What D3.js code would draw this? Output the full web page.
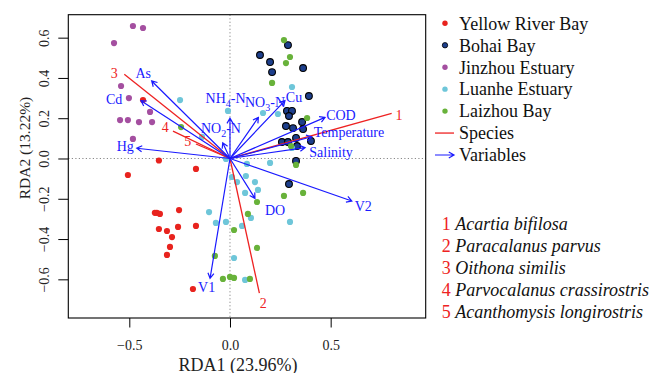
<!DOCTYPE html>
<html><head><meta charset="utf-8">
<script src="https://cdn.jsdelivr.net/npm/d3@7"></script>
<style>body{margin:0;background:#fff}svg{display:block;font-family:"Liberation Serif","Times New Roman",serif}</style>
</head><body><svg id="c" width="651" height="373"></svg>
<script>
// ---- data ----
const groups = ["Yellow River Bay","Bohai Bay","Jinzhou Estuary","Luanhe Estuary","Laizhou Bay"];
const groupColors = ["#e8231e","#1d3f8c","#a44fa0","#6ec6d9","#68b23a"];

const yellowRiverX = [-0.432,-0.353,-0.169,-0.507,-0.373,-0.363,-0.348,-0.253,-0.353,-0.313,-0.258,-0.169,-0.288,-0.298,-0.313,-0.184];
const yellowRiverY = [0.290,-0.010,-0.052,-0.082,-0.270,-0.270,-0.275,-0.256,-0.350,-0.360,-0.340,-0.335,-0.390,-0.439,-0.479,-0.648];

const bohaiX = [0.288,0.149,0.199,0.209,0.363,0.392,0.283,0.308,0.293,0.278,0.313,0.358,0.363,0.258,0.288,0.328,0.333,0.402,0.328,0.293];
const bohaiY = [0.563,0.514,0.479,0.429,0.449,0.310,0.236,0.236,0.211,0.161,0.151,0.181,0.146,0.082,0.082,0.102,0.062,0.087,-0.012,-0.127];

const jinzhouX = [-0.482,-0.432,-0.576,-0.541,-0.502,-0.397,-0.546,-0.507,-0.452,-0.387,-0.482];
const jinzhouY = [0.658,0.648,0.573,0.360,0.300,0.231,0.191,0.191,0.181,0.181,0.097];

const luanheX = [-0.248,0.308,-0.010,0.164,0.238,-0.139,-0.020,0.308,0.084,0.199,0.010,0.035,0.079,0.124,0.139,0.075,-0.104,-0.070,-0.020,0.060,0.104,0.298,0.020,0.075];
const luanheY = [0.290,0.355,0.236,0.226,0.221,0.107,-0.002,0.052,-0.027,-0.022,-0.092,-0.117,-0.087,-0.117,-0.156,-0.171,-0.266,-0.320,-0.315,-0.335,-0.295,-0.315,-0.494,-0.603];

const laizhouX = [-0.243,0.268,0.298,0.278,0.209,0.383,0.303,0.328,0.268,0.363,0.134,0.089,0.020,0.134,-0.075,-0.035,0.000,0.020,0.099];
const laizhouY = [0.156,0.588,0.504,0.474,0.375,0.201,0.062,-0.032,-0.186,-0.171,-0.216,-0.275,-0.355,-0.444,-0.484,-0.598,-0.588,-0.593,-0.598];

const varNames  = ["As","Cd","Hg","NH4-N","NO2-N","NO3-N","Cu","COD","Temperature","Salinity","V2","V1","DO"];
const varX      = [-0.389,-0.442,-0.463,0.000,-0.036,0.141,0.273,0.472,0.406,0.373,0.605,-0.099,0.124];
const varY      = [0.385,0.287,0.051,0.200,0.078,0.204,0.287,0.204,0.108,0.054,-0.211,-0.595,-0.198];
const varLabelX = [-0.431,-0.575,-0.520,-0.022,-0.045,0.174,0.318,0.551,0.591,0.502,0.662,-0.116,0.224];
const varLabelY = [0.423,0.294,0.062,0.299,0.150,0.282,0.304,0.216,0.133,0.034,-0.236,-0.641,-0.256];

const speciesIds    = ["1","2","3","4","5"];
const speciesNames  = ["Acartia bifilosa","Paracalanus parvus","Oithona similis","Parvocalanus crassirostris","Acanthomysis longirostris"];
const speciesX      = [0.803,0.146,-0.525,-0.283,-0.169];
const speciesY      = [0.224,-0.669,0.418,0.136,0.072];
const speciesLabelX = [0.840,0.165,-0.575,-0.321,-0.210];
const speciesLabelY = [0.216,-0.719,0.426,0.155,0.087];

const xTicks = [-0.5,0,0.5];
const yTicks = [-0.6,-0.4,-0.2,0,0.2,0.4,0.6];
const xTitle = "RDA1 (23.96%)";
const yTitle = "RDA2 (13.22%)";

// ---- drawing ----
const svg = d3.select("#c");
const L=68.3,R=425.7,T=14.7,B=318;
const x = d3.scaleLinear().domain([-0.803,0.972]).range([L,R]);
const y = d3.scaleLinear().domain([-0.792,0.714]).range([B,T]);
const BLUE="#1a1aff", RED="#ee2222";
const fmt = v => (v<0?"\u2212":"") + Math.abs(v).toFixed(1);

// axes
const xa = svg.append("g").attr("transform",`translate(0,${B})`)
  .call(d3.axisBottom(x).tickValues(xTicks).tickSize(9.5).tickPadding(0).tickFormat(fmt));
xa.select(".domain").remove();
xa.selectAll("line").attr("stroke","#000");
xa.selectAll("text").attr("y",32).attr("dy",0).attr("font-size",14).attr("fill","#222").attr("font-family","Liberation Serif");
const ya = svg.append("g").attr("transform",`translate(${L},0)`)
  .call(d3.axisLeft(y).tickValues(yTicks).tickSize(10).tickFormat(fmt));
ya.select(".domain").remove();
ya.selectAll("line").attr("stroke","#000");
ya.selectAll("text").attr("x",null).attr("dy",null).attr("text-anchor","middle")
  .attr("transform","translate(-19.5,0) rotate(-90)").attr("font-size",14).attr("fill","#222").attr("font-family","Liberation Serif");

svg.append("text").attr("x",238).attr("y",370.5).attr("text-anchor","middle").attr("font-size",18).attr("fill","#222").text(xTitle);
svg.append("text").attr("transform","translate(30,148) rotate(-90)").attr("text-anchor","middle").attr("font-size",15.5).attr("fill","#222").text(yTitle);

// zero lines
svg.append("line").attr("x1",x(0)).attr("x2",x(0)).attr("y1",T).attr("y2",B).attr("stroke","#888").attr("stroke-dasharray","1.2,2.3");
svg.append("line").attr("x1",L).attr("x2",R).attr("y1",y(0)).attr("y2",y(0)).attr("stroke","#888").attr("stroke-dasharray","1.2,2.3");

// points
const series = [[yellowRiverX,yellowRiverY],[bohaiX,bohaiY],[jinzhouX,jinzhouY],[luanheX,luanheY],[laizhouX,laizhouY]];
series.forEach((s,gi)=>{
  const pts = s[0].map((v,i)=>[v,s[1][i]]);
  svg.append("g").selectAll("circle").data(pts).join("circle")
    .attr("cx",d=>x(d[0])).attr("cy",d=>y(d[1]))
    .attr("r",gi===1?3.4:3.1)
    .attr("fill",groupColors[gi])
    .attr("stroke",gi===1?"#000":"none").attr("stroke-width",1.1);
});

// species lines
const sp = speciesIds.map((id,i)=>({id,x:speciesX[i],y:speciesY[i],lx:speciesLabelX[i],ly:speciesLabelY[i]}));
svg.append("g").selectAll("line").data(sp).join("line")
  .attr("x1",x(0)).attr("y1",y(0)).attr("x2",d=>x(d.x)).attr("y2",d=>y(d.y))
  .attr("stroke",RED).attr("stroke-width",1.3);
svg.append("g").selectAll("text").data(sp).join("text")
  .attr("x",d=>x(d.lx)).attr("y",d=>y(d.ly)).attr("dy","0.35em").attr("text-anchor","middle")
  .attr("font-size",14).attr("fill",RED).text(d=>d.id);

// variable arrows
function arrowPath(x0,y0,x1,y1,len){
  const a=Math.atan2(y1-y0,x1-x0), h=Math.PI/6;
  const p1=[x1-len*Math.cos(a-h),y1-len*Math.sin(a-h)];
  const p2=[x1-len*Math.cos(a+h),y1-len*Math.sin(a+h)];
  return `M${x0},${y0}L${x1},${y1}M${p1[0]},${p1[1]}L${x1},${y1}L${p2[0]},${p2[1]}`;
}
const vars = varNames.map((n,i)=>({n,x:varX[i],y:varY[i],lx:varLabelX[i],ly:varLabelY[i]}));
svg.append("g").selectAll("path").data(vars).join("path")
  .attr("d",d=>arrowPath(x(0),y(0),x(d.x),y(d.y),6))
  .attr("fill","none").attr("stroke",BLUE).attr("stroke-width",1.2);
const vt = svg.append("g").selectAll("text").data(vars).join("text")
  .attr("x",d=>x(d.lx)).attr("y",d=>y(d.ly)).attr("dy","0.35em").attr("text-anchor","middle")
  .attr("font-size",14).attr("fill",BLUE);
vt.each(function(d){
  const m = d.n.match(/^(N[HO])(\d)(-N)$/);
  const t = d3.select(this);
  if(m){
    t.append("tspan").text(m[1]);
    t.append("tspan").attr("font-size",10).attr("dy",4).text(m[2]);
    t.append("tspan").attr("dy",-4).text(m[3]);
  } else t.text(d.n);
});

// plot box
svg.append("rect").attr("x",L).attr("y",T).attr("width",R-L).attr("height",B-T).attr("fill","none").attr("stroke","#000").attr("stroke-width",1.1);

// legend
const lg = svg.append("g");
const legY0=23.3, legDY=21.95;
groups.forEach((g,i)=>{
  const yy = legY0+i*legDY;
  lg.append("circle").attr("cx",445).attr("cy",yy).attr("r",2.7).attr("fill",groupColors[i]).attr("stroke",i===1?"#000":"none").attr("stroke-width",0.8);
  lg.append("text").attr("x",459).attr("y",yy).attr("dy","0.35em").attr("font-size",18).attr("fill","#111").text(g);
});
{
  const yy = legY0+5*legDY;
  lg.append("line").attr("x1",435).attr("x2",454).attr("y1",yy).attr("y2",yy).attr("stroke",RED).attr("stroke-width",1.3);
  lg.append("text").attr("x",459).attr("y",yy).attr("dy","0.35em").attr("font-size",18).attr("fill","#111").text("Species");
  const y2 = legY0+6*legDY;
  lg.append("path").attr("d",arrowPath(435,y2,454,y2,6)).attr("fill","none").attr("stroke",BLUE).attr("stroke-width",1.2);
  lg.append("text").attr("x",459).attr("y",y2).attr("dy","0.35em").attr("font-size",18).attr("fill","#111").text("Variables");
}
// species key
const sk = svg.append("g");
speciesIds.forEach((id,i)=>{
  const t = sk.append("text").attr("x",441.7).attr("y",223.3+i*22.2).attr("dy","0.35em").attr("font-size",18);
  t.append("tspan").attr("fill",RED).text(id+" ");
  t.append("tspan").attr("fill","#111").attr("font-style","italic").text(speciesNames[i]);
});
</script></body></html>
